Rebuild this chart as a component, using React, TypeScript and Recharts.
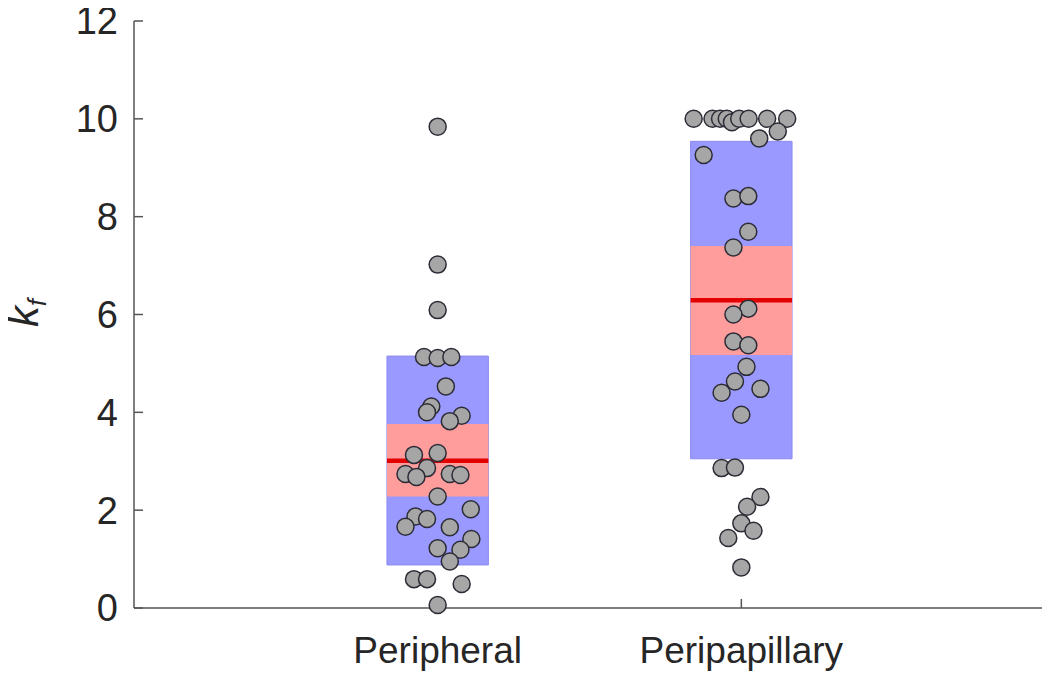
import React from 'react';
import { ComposedChart, Scatter, XAxis, YAxis, ReferenceArea, ReferenceLine } from 'recharts';

const groups = ['Peripheral', 'Peripapillary'];
const groupPos = [1, 2];
// box = whisker-ish range (blue), q1..q3 (pink), median (red)
const boxLow = [0.88, 3.05];
const boxHigh = [5.15, 9.54];
const q1 = [2.28, 5.17];
const q3 = [3.76, 7.4];
const medians = [3.01, 6.29];

const peripheralValues = [
  9.84, 7.02, 6.09, 5.13, 5.11, 5.13, 4.53, 4.12, 4.0, 3.93, 3.82, 3.13, 3.17, 2.86, 2.74, 2.68,
  2.74, 2.72, 2.28, 2.02, 1.87, 1.82, 1.66, 1.65, 1.41, 1.22, 1.19, 0.95, 0.59, 0.59, 0.49, 0.06,
];
const peripheralJitter = [
  0, 0, 0, -0.045, 0, 0.045, 0.027, -0.021, -0.035, 0.079, 0.04, -0.078, 0, -0.035, -0.106, -0.07,
  0.04, 0.075, 0, 0.109, -0.073, -0.035, -0.106, 0.04, 0.111, 0, 0.075, 0.04, -0.078, -0.035, 0.079, 0,
];
const peripapillaryValues = [
  10.0, 10.0, 10.0, 10.0, 9.93, 10.0, 10.0, 10.0, 10.0, 9.74, 9.6, 9.26, 8.37, 8.42, 7.69, 7.37,
  6.12, 6.0, 5.45, 5.37, 4.93, 4.63, 4.4, 4.48, 3.95, 2.86, 2.87, 2.27, 2.07, 1.73, 1.58, 1.43, 0.83,
];
const peripapillaryJitter = [
  -0.157, -0.095, -0.07, -0.048, -0.031, -0.007, 0.024, 0.085, 0.151, 0.12, 0.059, -0.124, -0.026,
  0.023, 0.023, -0.026, 0.023, -0.026, -0.026, 0.023, 0.017, -0.021, -0.065, 0.063, 0, -0.065,
  -0.021, 0.063, 0.019, 0, 0.04, -0.043, 0,
];
const yTicks = [0, 2, 4, 6, 8, 10, 12];

const FONT = '"Liberation Sans", Arial, Helvetica, sans-serif';
const HALF = 0.167;

const points = [
  ...peripheralValues.map((y, i) => ({ x: groupPos[0] + peripheralJitter[i], y })),
  ...peripapillaryValues.map((y, i) => ({ x: groupPos[1] + peripapillaryJitter[i], y })),
];

const Dot = (p: any) => (
  <circle cx={p.cx} cy={p.cy} r={8.5} fill="#a6a6a6" stroke="#2c2c36" strokeWidth={1.5} />
);

const YLabel = () => {
  const cx = 38;
  const cy = 313;
  return (
    <text
      x={cx}
      y={cy}
      transform={`rotate(-90, ${cx}, ${cy})`}
      textAnchor="middle"
      fontFamily={FONT}
      fontStyle="italic"
      fontSize={42}
      fill="#262626"
    >
      <tspan>k</tspan>
      <tspan fontSize={25} dy={8}>f</tspan>
    </text>
  );
};

export default function App() {
  // pull the chart into the body margin so the top tick label and the y label are not clipped
  return (
    <div style={{ marginLeft: -8, marginTop: -8 }}>
      <ComposedChart
        width={1050}
        height={683}
        margin={{ top: 21, right: 5, left: 7, bottom: 5 }}
        style={{ fontFamily: FONT }}
      >
        <XAxis
          type="number"
          dataKey="x"
          domain={[0, 3]}
          ticks={groupPos}
          tickFormatter={(v: number) => groups[groupPos.indexOf(v)] ?? ''}
          height={70}
          tickSize={-9}
          tickMargin={38}
          stroke="#555"
          strokeWidth={1.5}
          tick={{ fill: '#262626', fontSize: 37, fontFamily: FONT }}
          interval={0}
        />
        <YAxis
          type="number"
          dataKey="y"
          domain={[0, 12]}
          ticks={yTicks}
          width={127}
          tickSize={-9}
          tickMargin={25}
          stroke="#555"
          strokeWidth={1.5}
          tick={{ fill: '#262626', fontSize: 38, fontFamily: FONT }}
          interval={0}
          label={{ content: YLabel }}
        />
        {groupPos.map((g, i) => (
          <ReferenceArea
            key={`b${i}`}
            x1={g - HALF}
            x2={g + HALF}
            y1={boxLow[i]}
            y2={boxHigh[i]}
            fill="#9999ff"
            fillOpacity={1}
            stroke="#8a8af0"
            strokeWidth={1}
          />
        ))}
        {groupPos.map((g, i) => (
          <ReferenceArea
            key={`q${i}`}
            x1={g - HALF}
            x2={g + HALF}
            y1={q1[i]}
            y2={q3[i]}
            fill="#ff9d9d"
            fillOpacity={1}
            stroke="none"
          />
        ))}
        {groupPos.map((g, i) => (
          <ReferenceLine
            key={`m${i}`}
            segment={[
              { x: g - HALF, y: medians[i] },
              { x: g + HALF, y: medians[i] },
            ]}
            stroke="#e30000"
            strokeWidth={4.5}
          />
        ))}
        <Scatter data={points} shape={Dot} isAnimationActive={false} />
      </ComposedChart>
    </div>
  );
}
